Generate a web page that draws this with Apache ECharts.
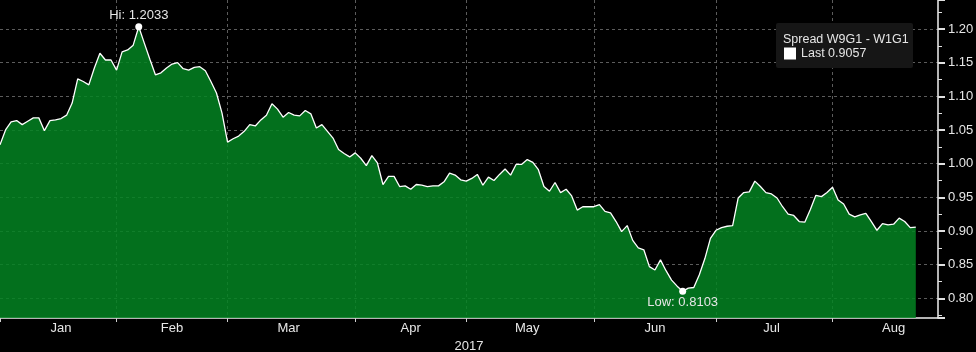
<!DOCTYPE html>
<html><head><meta charset="utf-8">
<script src="https://cdn.jsdelivr.net/npm/echarts@6/dist/echarts.min.js"></script>
<style>html,body{margin:0;padding:0;background:#000;}#c{width:976px;height:352px;}</style>
</head><body><div id="c"></div>
<script>
// ---- data ----
const startDate = '2017-01-03';
const endDate = '2017-08-28';
const spreadValues = [
  1.028, 1.050, 1.062, 1.064, 1.058, 1.063, 1.068, 1.068, 1.049, 1.064,
  1.065, 1.067, 1.072, 1.090, 1.126, 1.122, 1.117, 1.142, 1.164, 1.154,
  1.154, 1.139, 1.166, 1.169, 1.176, 1.2033, 1.179, 1.155, 1.132, 1.135,
  1.142, 1.148, 1.150, 1.141, 1.139, 1.143, 1.144, 1.138, 1.122, 1.105,
  1.075, 1.032, 1.037, 1.041, 1.048, 1.058, 1.056, 1.065, 1.072, 1.089,
  1.081, 1.069, 1.076, 1.072, 1.071, 1.079, 1.074, 1.053, 1.058, 1.048,
  1.038, 1.021, 1.015, 1.010, 1.016, 1.008, 0.997, 1.012, 1.001, 0.969,
  0.981, 0.981, 0.966, 0.967, 0.962, 0.969, 0.968, 0.966, 0.967, 0.967,
  0.973, 0.986, 0.983, 0.976, 0.974, 0.978, 0.984, 0.968, 0.980, 0.975,
  0.984, 0.992, 0.983, 0.999, 0.999, 1.006, 1.002, 0.991, 0.966, 0.959,
  0.972, 0.957, 0.962, 0.952, 0.931, 0.936, 0.936, 0.936, 0.939, 0.929,
  0.927, 0.914, 0.899, 0.908, 0.886, 0.875, 0.872, 0.847, 0.842, 0.857,
  0.841, 0.827, 0.818, 0.8103, 0.815, 0.816, 0.835, 0.859, 0.889, 0.901,
  0.905, 0.907, 0.908, 0.949, 0.957, 0.958, 0.974, 0.966, 0.957, 0.955,
  0.949, 0.936, 0.925, 0.923, 0.914, 0.913, 0.932, 0.953, 0.951, 0.957,
  0.965, 0.946, 0.940, 0.925, 0.921, 0.924, 0.926, 0.914, 0.901, 0.911,
  0.909, 0.910, 0.919, 0.914, 0.905, 0.9057
];
const monthLabelDates = ['2017-01-18','2017-02-15','2017-03-16','2017-04-17','2017-05-16','2017-06-16','2017-07-17','2017-08-16'];
const monthNames = ['Jan','Feb','Mar','Apr','May','Jun','Jul','Aug','Sep','Oct','Nov','Dec'];
const yearLabel = '2017';
const seriesTitle = 'Spread W9G1 - W1G1';
const yMin = 0.7707, yMax = 1.2431;

// ---- build ----
function weekdays(a, b) {
  const out = [];
  let d = new Date(a + 'T00:00:00Z');
  const e = new Date(b + 'T00:00:00Z');
  while (d <= e) {
    const w = d.getUTCDay();
    if (w !== 0 && w !== 6) out.push(d.toISOString().slice(0, 10));
    d = new Date(d.getTime() + 86400000);
  }
  return out;
}
const categories = weekdays(startDate, endDate);
const monthStart = categories.map((c, i) => i === 0 || c.slice(5, 7) !== categories[i - 1].slice(5, 7));
const lastName = 'Last ' + spreadValues[spreadValues.length - 1].toFixed(4);

const FONT = 'Liberation Sans';
const TXT = '#e6e6e6';
const GRIDC = '#5c5c5c';

const chart = echarts.init(document.getElementById('c'), null, {renderer: 'canvas'});
chart.setOption({
  backgroundColor: '#000',
  animation: false,
  grid: {left: 0, right: 38, top: 0, bottom: 34, containLabel: false, outerBoundsMode: 'none'},
  title: {
    text: seriesTitle, left: 778, top: 28, z: 10,
    textStyle: {color: TXT, fontFamily: FONT, fontSize: 12.5, fontWeight: 'normal'}
  },
  legend: {
    data: [{name: lastName, icon: 'rect'}],
    left: 779, top: 47, z: 10, padding: [0, 5, 0, 5],
    itemWidth: 12, itemHeight: 12, itemGap: 4,
    textStyle: {color: TXT, fontFamily: FONT, fontSize: 12.5}
  },
  graphic: [{
    type: 'rect', left: 776, top: 23, z: 5,
    shape: {width: 137, height: 45, r: 2},
    style: {fill: '#161616'}
  }],
  xAxis: {
    type: 'category', data: categories, boundaryGap: false,
    name: yearLabel, nameLocation: 'middle', nameGap: 18,
    nameTextStyle: {color: TXT, fontFamily: FONT, fontSize: 13},
    axisLine: {show: true, lineStyle: {color: '#f0f0f0', width: 1.5}},
    axisTick: {show: true, length: 4, interval: (i) => monthStart[i], lineStyle: {color: '#cfcfcf'}},
    axisLabel: {
      show: true, margin: 4, color: TXT, fontFamily: FONT, fontSize: 13,
      interval: (i, v) => monthLabelDates.indexOf(v) >= 0,
      formatter: (v) => monthNames[parseInt(v.slice(5, 7), 10) - 1]
    },
    splitLine: {show: true, interval: (i) => i > 0 && monthStart[i], lineStyle: {color: GRIDC, type: [3, 3], width: 1}}
  },
  yAxis: {
    type: 'value', position: 'right', min: yMin, max: yMax, splitNumber: 9, scale: true,
    axisLine: {show: true, lineStyle: {color: '#f0f0f0', width: 1.5}},
    axisTick: {show: true, length: 7, lineStyle: {color: '#e0e0e0', width: 2}},
    minorTick: {show: true, splitNumber: 2, length: 4, lineStyle: {color: '#e0e0e0', width: 1}},
    axisLabel: {
      show: true, margin: 10, color: TXT, fontFamily: FONT, fontSize: 13,
      showMinLabel: false, showMaxLabel: false,
      formatter: (v) => v.toFixed(2)
    },
    splitLine: {show: true, showMinLine: false, showMaxLine: false, lineStyle: {color: GRIDC, type: [3, 3], width: 1}}
  },
  series: [{
    name: lastName, type: 'line', data: spreadValues,
    showSymbol: false, symbol: 'none',
    itemStyle: {color: '#ffffff'},
    lineStyle: {color: '#ffffff', width: 1.3},
    areaStyle: {color: 'rgb(4,132,34)', opacity: 0.85},
    z: 2,
    markPoint: {
      symbol: 'circle', symbolSize: 7,
      itemStyle: {color: '#ffffff'},
      data: [
        {type: 'max', label: {position: 'top', distance: 1, formatter: 'Hi: {c}'}},
        {type: 'min', label: {position: 'bottom', distance: 1, formatter: 'Low: {c}'}}
      ],
      label: {show: true, color: TXT, fontFamily: FONT, fontSize: 13}
    }
  }]
});
</script></body></html>
